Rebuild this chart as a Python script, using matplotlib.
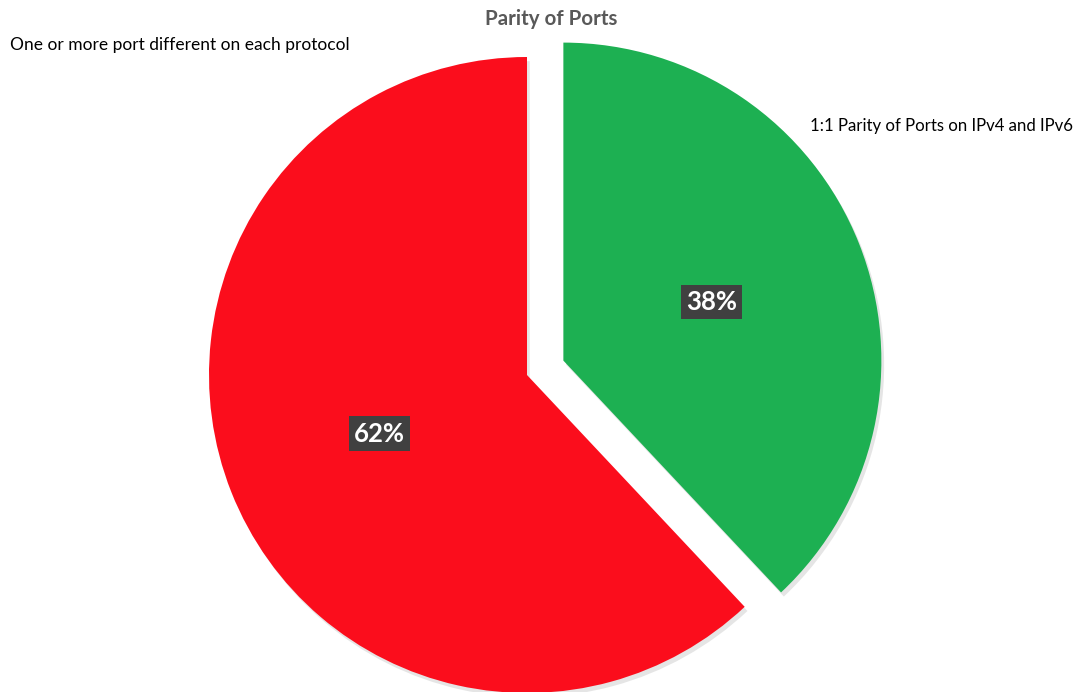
import matplotlib.pyplot as plt
import matplotlib.patheffects as pe

plt.rcParams['font.family'] = ['Lato', 'DejaVu Sans']

# port parity shares
categories = ['1:1 Parity of Ports on IPv4 and IPv6', 'One or more port different on each protocol']
shares = [38, 62]
colors = ['#1DB052', '#FB0D1C']

fig = plt.figure(figsize=(10.82, 6.92), dpi=100)
# axes spans the whole figure, 318 px per data unit, pie centre at (527, 375) px
ax = fig.add_axes([0, 0, 1, 1])
r_px = 318.0

wedges, texts, autotexts = ax.pie(
    shares, colors=colors, startangle=90, counterclock=False,
    explode=[0.123, 0], radius=1, center=(0, 0), frame=True,
    autopct='%d%%', pctdistance=0.5,
    wedgeprops=dict(linewidth=0),
)
ax.set_xlim(-527 / r_px, (1082 - 527) / r_px)
ax.set_ylim(-(692 - 375) / r_px, 375 / r_px)
ax.set_aspect('auto')
ax.axis('off')

for w in wedges:
    w.set_path_effects([pe.SimplePatchShadow(offset=(2, -3), shadow_rgbFace='#999999', alpha=0.25), pe.Normal()])

for t in autotexts:
    t.set_color('white')
    t.set_fontsize(18.5)
    t.set_fontweight('bold')
    t.set_bbox(dict(facecolor='#404040', edgecolor='none', boxstyle='square,pad=0.2'))

fig.text(551 / 1082, 1 - 19 / 692, 'Parity of Ports', ha='center', va='center',
         fontsize=14.8, fontweight='bold', color='#595959')
fig.text(10 / 1082, 1 - 45 / 692, categories[1], ha='left', va='center', fontsize=12.5, color='black')
fig.text(810 / 1082, 1 - 126 / 692, categories[0], ha='left', va='center', fontsize=12.1, color='black')

fig.savefig('out.png', dpi=100, facecolor='white')
